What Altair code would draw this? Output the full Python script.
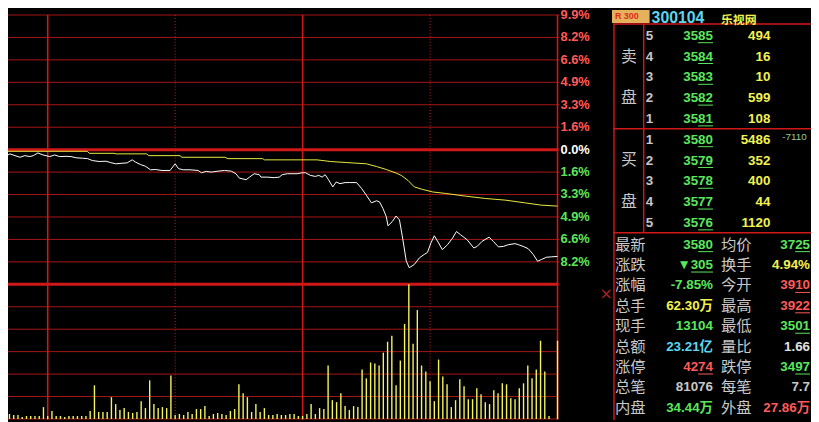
import altair as alt
import pandas as pd

# ---------------- data ----------------
# percent-change grid of the price panel
pct_ticks = [9.9, 8.25, 6.6, 4.95, 3.3, 1.65, 0.0, -1.65, -3.3, -4.95, -6.6, -8.25]
pct_labels = ["9.9%", "8.2%", "6.6%", "4.9%", "3.3%", "1.6%", "0.0%",
              "1.6%", "3.3%", "4.9%", "6.6%", "8.2%"]

# white price line: x in bar-index units, y in % change vs previous close
price_idx = [-0.2, 0.7, 1.4, 2.1, 3.3, 4.5, 5.6, 6.8, 7.6, 8.7, 9.9, 11.5, 12.6, 13.8, 15.3,
             16.5, 17.7, 19.2, 20.4, 21.5, 23.1, 24.7, 25.8, 27.0, 28.5, 29.7, 30.9, 31.7,
             32.8, 34.0, 35.2, 36.3, 37.9, 39.8, 41.0, 41.8, 42.9, 44.5, 46.4, 47.2, 48.3,
             49.5, 51.1, 52.6, 54.2, 55.3, 56.1, 57.7, 58.5, 59.6, 60.8, 61.2, 62.7, 64.3,
             65.5, 66.2, 67.4, 69.7, 70.9, 71.7, 72.8, 74.0, 74.8, 75.6, 76.3, 77.1, 78.1,
             78.9, 79.8, 81.0, 82.1, 83.7, 84.9, 86.0, 87.2, 88.4, 89.1, 89.9, 90.7, 91.1,
             92.1, 93.0, 93.8, 94.6, 95.4, 96.1, 97.3, 98.5, 99.6, 100.4, 101.2, 102.0,
             103.0, 103.9, 105.1, 106.3, 107.2, 108.2, 109.7, 111.3, 112.1, 113.2, 114.9,
             115.9, 117.1, 118.3, 119.4, 121.0, 121.8, 122.9, 124.1, 125.3, 126.3, 127.2,
             128.4, 129.6, 131.0]
price_pct = [-0.68, 0.05, -0.44, -0.31, -0.44, -0.56, -0.44, -0.51, -0.44, -0.24, -0.39,
             -0.51, -0.39, -0.51, -0.49, -0.51, -0.60, -0.63, -0.66, -0.80, -0.87, -0.85,
             -0.95, -1.04, -1.00, -0.97, -0.75, -0.92, -1.09, -1.22, -1.48, -1.46, -1.53,
             -1.53, -1.04, -1.40, -1.48, -1.48, -1.53, -1.70, -1.60, -1.65, -1.58, -1.53,
             -1.58, -1.77, -2.09, -2.21, -2.02, -1.77, -1.84, -2.02, -2.02, -2.06, -2.02,
             -1.84, -1.77, -1.77, -1.70, -1.70, -1.89, -1.97, -1.89, -2.02, -1.84, -2.21,
             -2.74, -2.38, -2.50, -2.42, -2.42, -2.42, -2.86, -3.35, -3.91, -3.76, -3.84,
             -4.32, -4.93, -5.60, -5.29, -4.88, -5.17, -6.62, -8.20, -8.68, -8.44, -7.95,
             -7.71, -7.55, -6.86, -6.33, -6.86, -7.35, -6.99, -6.50, -6.02, -6.26, -6.62,
             -7.23, -7.11, -6.75, -6.43, -6.75, -7.15, -7.11, -6.99, -6.91, -6.99, -7.11,
             -7.28, -7.71, -8.20, -8.08, -7.91, -7.88, -7.85]

# yellow average-price line
avg_idx = [-0.2, 20.3, 20.8, 26.6, 27.1, 34.3, 34.8, 42.2, 42.5, 52.7, 53.4, 61.6, 62.0,
           74.4, 77.5, 81.4, 86.0, 88.4, 90.7, 93.0, 94.2, 95.8, 97.3, 99.3, 101.6, 104.7,
           109.4, 114.0, 118.7, 123.3, 127.2, 131.0]
avg_pct = [-0.12, -0.12, -0.27, -0.27, -0.31, -0.31, -0.44, -0.44, -0.56, -0.56, -0.66,
           -0.66, -0.75, -0.75, -0.87, -0.95, -1.04, -1.24, -1.46, -1.72, -1.89, -2.26,
           -2.74, -2.93, -3.11, -3.22, -3.42, -3.59, -3.71, -3.91, -4.08, -4.15]

# volume bars, bar index 1..131
vol_values = [16, 5, 4, 4, 2, 3, 3, 3, 3, 12,
              3, 8, 3, 3, 2, 3, 3, 3, 3, 3,
              8, 34, 7, 7, 7, 22, 15, 9, 11, 7,
              6, 7, 18, 11, 39, 15, 11, 12, 11, 44,
              4, 5, 4, 7, 5, 10, 10, 13, 3, 5,
              6, 5, 4, 8, 10, 35, 26, 22, 7, 15,
              7, 11, 4, 4, 5, 4, 4, 5, 5, 3,
              3, 5, 15, 5, 11, 10, 54, 19, 17, 26,
              13, 9, 13, 12, 50, 41, 57, 56, 54, 67,
              78, 84, 34, 59, 96, 136, 76, 110, 54, 48,
              38, 18, 60, 43, 35, 12, 19, 40, 33, 20,
              20, 31, 25, 17, 15, 29, 26, 36, 35, 21,
              20, 31, 36, 54, 41, 50, 79, 48, 3, 0, 79]
vol_index = list(range(1, len(vol_values) + 1))
vol_grid = [0, 22.67, 45.33, 68.0, 90.67, 113.33]

vline_solid = [11, 71, 131]
vline_dotted = [41, 101]

# order book
book_side_labels = ["卖", "盘", "买", "盘"]
book_side_rows = [1, 3, 6, 8]
book_level = ["5", "4", "3", "2", "1", "1", "2", "3", "4", "5"]
book_price = ["3585", "3584", "3583", "3582", "3581", "3580", "3579", "3578", "3577", "3576"]
book_volume = ["494", "16", "10", "599", "108", "5486", "352", "400", "44", "1120"]

# quote statistics
stat_label1 = ["最新", "涨跌", "涨幅", "总手", "现手", "总额", "涨停", "总笔", "内盘"]
stat_value1 = ["3580", "▼305", "-7.85%", "62.30万", "13104", "23.21亿", "4274", "81076", "34.44万"]
stat_label2 = ["均价", "换手", "今开", "最高", "最低", "量比", "跌停", "每笔", "外盘"]
stat_value2 = ["3725", "4.94%", "3910", "3922", "3501", "1.66", "3497", "7.7", "27.86万"]

# ---------------- styling ----------------
BG = "#000000"
GRID = "#a81616"
GRID_BRIGHT = "#d01818"
GREEN = "#5ce65c"
RED = "#ff5a5a"
YELLOW = "#f2f250"
CYAN = "#5cd6ee"
GREY = "#c8c8c8"
WHITE = "#ffffff"
NUM_FONT = "Liberation Sans, Noto Sans CJK SC"
CJK_FONT = "Noto Sans CJK SC"

stat_color1 = [GREEN, GREEN, GREEN, YELLOW, GREEN, CYAN, RED, GREY, GREEN]
stat_color2 = [GREEN, YELLOW, RED, RED, GREEN, "#e0e0e0", GREEN, GREY, RED]

W, H = 811, 414
PLOT_R = 555
xs = alt.Scale(domain=[1.655, 131], range=[0, PLOT_R], nice=False, zero=False)
yp = alt.Scale(domain=[-9.9, 9.9], range=[277, 5], nice=False, zero=False)
yv = alt.Scale(domain=[0, 136], range=[413, 277], nice=False, zero=False)
yb = alt.Scale(domain=[0, 9], range=[26, 215], nice=False, zero=False)
yst = alt.Scale(domain=[0, 8], range=[237, 401.8], nice=False, zero=False)

layers = []

# price grid
thin = pd.DataFrame({"pct": [t for t in pct_ticks if t != 0]})
layers.append(alt.Chart(thin).mark_rule(color=GRID, strokeWidth=1).encode(
    y=alt.Y("pct:Q", scale=yp, axis=None), x=alt.value(0), x2=alt.value(PLOT_R + 2)))
thick = pd.DataFrame({"pct": [0.0, -9.9]})
layers.append(alt.Chart(thick).mark_rule(color=GRID_BRIGHT, strokeWidth=3).encode(
    y=alt.Y("pct:Q", scale=yp, axis=None), x=alt.value(0), x2=alt.value(PLOT_R + 1)))
# volume grid
layers.append(alt.Chart(pd.DataFrame({"v": vol_grid})).mark_rule(color=GRID, strokeWidth=1).encode(
    y=alt.Y("v:Q", scale=yv, axis=None), x=alt.value(0), x2=alt.value(PLOT_R)))
# vertical lines
layers.append(alt.Chart(pd.DataFrame({"i": vline_solid})).mark_rule(color=GRID_BRIGHT, strokeWidth=1.6).encode(
    x=alt.X("i:Q", scale=xs, axis=None), y=alt.value(5), y2=alt.value(H)))
layers.append(alt.Chart(pd.DataFrame({"i": vline_dotted})).mark_rule(
    color=GRID_BRIGHT, strokeWidth=1, strokeDash=[1, 2]).encode(
    x=alt.X("i:Q", scale=xs, axis=None), y=alt.value(5), y2=alt.value(H)))

# volume bars
vol_df = pd.DataFrame({"i": vol_index, "v": vol_values})
layers.append(alt.Chart(vol_df).mark_rule(color="#f5f55a", strokeWidth=1.4).encode(
    x=alt.X("i:Q", scale=xs, axis=None), y=alt.Y("v:Q", scale=yv, axis=None), y2=alt.datum(0)))

# average and price lines
avg_df = pd.DataFrame({"i": avg_idx, "pct": avg_pct})
layers.append(alt.Chart(avg_df).mark_line(color="#eaea40", strokeWidth=1).encode(
    x=alt.X("i:Q", scale=xs, axis=None), y=alt.Y("pct:Q", scale=yp, axis=None)))
price_df = pd.DataFrame({"i": price_idx, "pct": price_pct})
layers.append(alt.Chart(price_df).mark_line(color=WHITE, strokeWidth=1).encode(
    x=alt.X("i:Q", scale=xs, axis=None), y=alt.Y("pct:Q", scale=yp, axis=None)))

# axis labels of the price panel
lab_df = pd.DataFrame({
    "pct": pct_ticks, "label": pct_labels,
    "color": [RED if t > 0 else (WHITE if t == 0 else GREEN) for t in pct_ticks]})
layers.append(alt.Chart(lab_df).mark_text(
    align="left", baseline="middle", font="Liberation Sans", fontSize=13, fontWeight="bold").encode(
    x=alt.value(558), y=alt.Y("pct:Q", scale=yp, axis=None), text="label:N",
    color=alt.Color("color:N", scale=None)))

# right panel frame
def hline(x1, x2, y, w=1.5):
    return alt.Chart(pd.DataFrame({"k": [0]})).mark_rule(color=GRID_BRIGHT, strokeWidth=w).encode(
        x=alt.value(x1), x2=alt.value(x2), y=alt.value(y))

def vline(x, y1, y2, w=1.5):
    return alt.Chart(pd.DataFrame({"k": [0]})).mark_rule(color=GRID_BRIGHT, strokeWidth=w).encode(
        x=alt.value(x), y=alt.value(y1), y2=alt.value(y2))

layers += [hline(611, W, 14), hline(611, W, 120), hline(611, W, 225),
           vline(612, 14, H), vline(642, 14, 225)]

# header
layers.append(alt.Chart(pd.DataFrame({"k": [0]})).mark_rect(color="#e4b25c").encode(
    x=alt.value(610), x2=alt.value(648), y=alt.value(0), y2=alt.value(13)))
layers.append(alt.Chart(pd.DataFrame({"t": ["R 300"]})).mark_text(
    align="left", baseline="middle", font="Liberation Sans", fontSize=9, fontWeight="bold",
    color="#e02a1a").encode(x=alt.value(613), y=alt.value(6), text="t:N"))
layers.append(alt.Chart(pd.DataFrame({"t": ["300104"]})).mark_text(
    align="left", baseline="alphabetic", font="Liberation Sans", fontSize=16, fontWeight="bold",
    color=CYAN).encode(x=alt.value(650), y=alt.value(13), text="t:N"))
layers.append(alt.Chart(pd.DataFrame({"t": ["乐视网"]})).mark_text(
    align="left", baseline="alphabetic", font=CJK_FONT, fontSize=12, fontWeight="bold",
    color=YELLOW).encode(x=alt.value(720), y=alt.value(14), text="t:N"))

# order book
side_df = pd.DataFrame({"row": book_side_rows, "t": book_side_labels})
layers.append(alt.Chart(side_df).mark_text(
    align="center", baseline="middle", font=CJK_FONT, fontSize=16, color=GREY).encode(
    x=alt.value(627), y=alt.Y("row:Q", scale=yb, axis=None), text="t:N"))
book_df = pd.DataFrame({"row": list(range(10)), "level": book_level,
                        "price": book_price, "vol": book_volume})
num = dict(font=NUM_FONT, fontSize=13.5, fontWeight="bold", baseline="middle")
layers.append(alt.Chart(book_df).mark_text(align="left", color=GREY, **num).encode(
    x=alt.value(644), y=alt.Y("row:Q", scale=yb, axis=None), text="level:N"))
layers.append(alt.Chart(book_df).mark_text(align="right", color=GREEN, **num).encode(
    x=alt.value(712), y=alt.Y("row:Q", scale=yb, axis=None), text="price:N"))
layers.append(alt.Chart(book_df).mark_text(align="right", color=YELLOW, **num).encode(
    x=alt.value(770), y=alt.Y("row:Q", scale=yb, axis=None), text="vol:N"))
layers.append(alt.Chart(book_df).mark_rule(color=GREEN, strokeWidth=1, yOffset=7).encode(
    x=alt.value(697), x2=alt.value(712), y=alt.Y("row:Q", scale=yb, axis=None)))
layers.append(alt.Chart(pd.DataFrame({"row": [5], "t": ["-7110"]})).mark_text(
    align="left", baseline="middle", font="Liberation Sans", fontSize=10, color="#9cc89c").encode(
    x=alt.value(782), y=alt.Y("row:Q", scale=yb, axis=None), yOffset=alt.value(-3), text="t:N"))

# statistics table
st_df = pd.DataFrame({"row": list(range(9)), "l1": stat_label1, "v1": stat_value1,
                      "l2": stat_label2, "v2": stat_value2,
                      "c1": stat_color1, "c2": stat_color2})
lab = dict(font=CJK_FONT, fontSize=15.5, baseline="middle", color=GREY)
layers.append(alt.Chart(st_df).mark_text(align="left", **lab).encode(
    x=alt.value(613), y=alt.Y("row:Q", scale=yst, axis=None), text="l1:N"))
layers.append(alt.Chart(st_df).mark_text(align="left", **lab).encode(
    x=alt.value(720), y=alt.Y("row:Q", scale=yst, axis=None), text="l2:N"))
layers.append(alt.Chart(st_df).mark_text(align="right", **num).encode(
    x=alt.value(712), y=alt.Y("row:Q", scale=yst, axis=None), text="v1:N",
    color=alt.Color("c1:N", scale=None)))
layers.append(alt.Chart(st_df).mark_text(align="right", **num).encode(
    x=alt.value(810), y=alt.Y("row:Q", scale=yst, axis=None), text="v2:N",
    color=alt.Color("c2:N", scale=None)))
ul1 = pd.DataFrame({"row": [0, 6], "c": [GREEN, RED]})
layers.append(alt.Chart(ul1).mark_rule(strokeWidth=1, yOffset=7).encode(
    x=alt.value(697), x2=alt.value(712), y=alt.Y("row:Q", scale=yst, axis=None),
    color=alt.Color("c:N", scale=None)))
layers.append(alt.Chart(pd.DataFrame({"row": [1]})).mark_rule(strokeWidth=1, yOffset=7, color=GREEN).encode(
    x=alt.value(690), x2=alt.value(712), y=alt.Y("row:Q", scale=yst, axis=None)))
ul2 = pd.DataFrame({"row": [0, 2, 3, 4, 6], "c": [GREEN, RED, RED, GREEN, GREEN]})
layers.append(alt.Chart(ul2).mark_rule(strokeWidth=1, yOffset=7).encode(
    x=alt.value(795), x2=alt.value(810), y=alt.Y("row:Q", scale=yst, axis=None),
    color=alt.Color("c:N", scale=None)))

# small cross marker
layers.append(alt.Chart(pd.DataFrame({"t": ["×"]})).mark_text(
    align="center", baseline="middle", font="DejaVu Sans", fontSize=16, color="#b02020").encode(
    x=alt.value(604), y=alt.value(287), text="t:N"))

chart = alt.layer(*layers).resolve_scale(
    x="independent", y="independent", color="independent"
).properties(
    width=W, height=H, autosize="none", padding=0, background=BG
).configure_view(stroke=None)

chart.save("out.html", embed_options={"renderer": "svg", "actions": False})
